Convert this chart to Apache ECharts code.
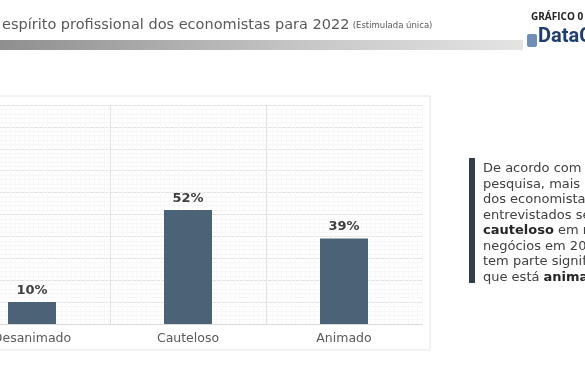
<!DOCTYPE html>
<html>
<head>
<meta charset="utf-8">
<script src="https://cdn.jsdelivr.net/npm/echarts@6/dist/echarts.min.js"></script>
<style>html,body{margin:0;padding:0;background:#fff;overflow:hidden;width:585px;height:390px;position:relative;}#c{width:631px;height:390px;position:absolute;left:-46px;top:0;}</style>
</head>
<body>
<div id="c"></div>
<script>
var categories = ['Desanimado', 'Cauteloso', 'Animado'];
var values = [10, 52, 39];
var yTicks = [0, 10, 20, 30, 40, 50, 60, 70, 80, 90, 100];

var OX = 46; // page-to-canvas offset
var chart = echarts.init(document.getElementById('c'), null, {renderer: 'canvas'});
var FONT = 'DejaVu Sans';
chart.setOption({
  backgroundColor: '#ffffff',
  animation: false,
  textStyle: {fontFamily: FONT},
  grid: {left: 0, right: 163, top: 105, bottom: 66, containLabel: false},
  xAxis: [{
    type: 'category',
    data: categories,
    axisLine: {show: true, lineStyle: {color: '#d9d9d9'}},
    axisTick: {show: false},
    axisLabel: {color: '#595959', fontSize: 12.5, margin: 8, fontFamily: FONT},
    splitLine: {show: true, lineStyle: {color: '#e3e3e3', width: 1}}
  }, {
    type: 'value', min: 0, max: 100, interval: 1,
    axisLine: {show: false}, axisTick: {show: false}, axisLabel: {show: false},
    splitLine: {show: true, lineStyle: {color: '#f8f8f8', width: 1}}
  }],
  yAxis: {
    type: 'value',
    min: yTicks[0], max: yTicks[yTicks.length - 1], interval: 10,
    axisLine: {show: false}, axisTick: {show: false}, axisLabel: {show: false},
    splitLine: {show: true, lineStyle: {color: '#e3e3e3', width: 1}},
    minorTick: {show: false, splitNumber: 5},
    minorSplitLine: {show: true, lineStyle: {color: '#f6f6f6', width: 1}}
  },
  series: [{
    type: 'bar',
    xAxisIndex: 0,
    data: values,
    barWidth: 48,
    itemStyle: {color: '#4c6277'},
    label: {
      show: true, position: 'top', distance: 5,
      formatter: '{c}%', color: '#404040', fontSize: 13, fontWeight: 'bold', fontFamily: FONT
    },
    z: 5
  }],
  graphic: [
    {type: 'rect', shape: {x: OX - 2, y: 96, width: 432, height: 254}, style: {fill: 'none', stroke: '#e6e6e6', lineWidth: 1}, z: -10, silent: true},
    {type: 'rect', shape: {x: OX, y: 40, width: 523, height: 10},
      style: {fill: new echarts.graphic.LinearGradient(0, 0, 1, 0, [{offset: 0, color: '#8f8f8f'}, {offset: 0.6, color: '#c8c8c8'}, {offset: 1, color: '#e4e4e4'}])}, silent: true},
    {type: 'text', x: OX + 2, y: 18, style: {
      text: '{a|espírito profissional dos economistas para 2022} {s|(Estimulada única)}',
      rich: {a: {fontSize: 14.5, fill: '#595959', fontFamily: FONT}, s: {fontSize: 8.5, fill: '#595959', fontFamily: FONT}}
    }},
    {type: 'text', x: OX + 531, y: 12, style: {text: 'GRÁFICO 0', fontSize: 10, fontWeight: 'bold', fill: '#222222', fontFamily: 'Open Sans'}},
    {type: 'rect', shape: {x: OX + 527, y: 34, width: 10, height: 13, r: 2}, style: {fill: '#6f8fb8'}},
    {type: 'text', x: OX + 538, y: 27, style: {text: 'DataC', fontSize: 20, fontWeight: 'bold', fill: '#1e3d70', fontFamily: 'Roboto'}},
    {type: 'rect', shape: {x: OX + 469, y: 158, width: 6, height: 125}, style: {fill: '#333d47'}},
    {type: 'text', x: OX + 483, y: 161, style: {
      text: 'De acordo com a\npesquisa, mais da metade\ndos economistas\nentrevistados se diz\n{b|cauteloso} em relação aos\nnegócios em 2022, e\ntem parte significativa\nque está {b|animada}.',
      fontSize: 13, lineHeight: 15.5, fill: '#404040', fontFamily: FONT,
      rich: {b: {fontSize: 13, lineHeight: 15.5, fontWeight: 'bold', fill: '#262626', fontFamily: FONT}}
    }}
  ]
});
</script>
</body>
</html>
